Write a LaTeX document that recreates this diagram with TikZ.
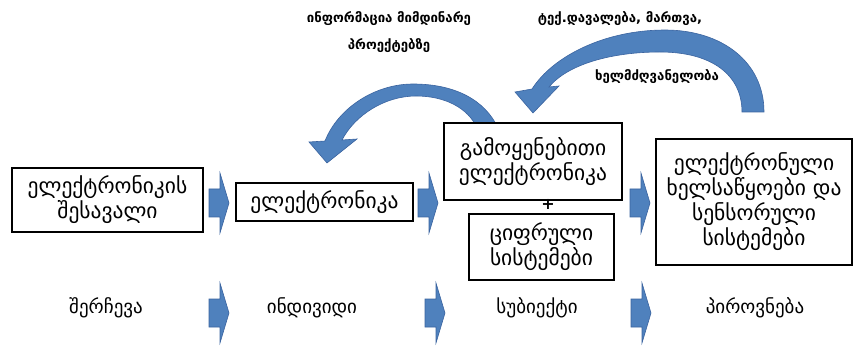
\documentclass[tikz,border=0pt]{standalone}
\usepackage{fontspec}
\setmainfont{DejaVu Sans}
\definecolor{arrblue}{HTML}{4F81BD}
\definecolor{arrline}{HTML}{3B64A0}
\tikzset{
  box/.style={draw=black, fill=white, line width=1.2pt, align=center, inner sep=0pt,
              font=\fontsize{21.5}{25}\selectfont},
  arrowfill/.style={fill=arrblue, draw=arrline, line width=0.6pt},
  toplabel/.style={font=\bfseries\fontsize{13.2}{27}\selectfont, align=center, inner sep=0pt},
  rowlabel/.style={font=\fontsize{19}{20}\selectfont, inner sep=0pt},
  barrow/.pic={\path[arrowfill] (-10,-14) -- (1,-14) -- (1,-30) -- (10,0) -- (1,30) -- (1,14) -- (-10,14) -- cycle;}
}
\begin{document}
\begin{tikzpicture}[x=1pt,y=-1pt]
\path[use as bounding box, fill=white] (0,0) rectangle (853,347);

% curved arrows
\path[arrowfill] (764,112) .. controls (764,62) and (722,30) .. (665,30)
   .. controls (605,30) and (553,56) .. (532,89) -- (515,92) -- (533,113) -- (559,86) -- (549,87)
   .. controls (568,64) and (612,52) .. (660,52)
   .. controls (712,52) and (742,75) .. (742,112) -- cycle;
\path[arrowfill] (498,128) .. controls (485,100) and (455,84) .. (413,84)
   .. controls (375,84) and (338,108) .. (325,141) -- (309,142) -- (327,163) -- (357,139) -- (342,140)
   .. controls (355,115) and (385,96) .. (416,96)
   .. controls (445,96) and (468,108) .. (477,128) -- cycle;

% boxes
\node[box, minimum width=191, minimum height=64] (b1) at (107.5,200) {ელექტრონიკის\\შესავალი};
\node[box, minimum width=177, minimum height=38] (b2) at (324.5,202) {ელექტრონიკა};
\node[box, minimum width=178, minimum height=77] (b3) at (533,161.5) {გამოყენებითი\\ელექტრონიკა};
\node[font=\bfseries\fontsize{16}{16}\selectfont, inner sep=0pt] (plus) at (548,204) {+};
\node[box, minimum width=145, minimum height=66] (b4) at (541.5,247) {ციფრული\\სისტემები};
\node[box, minimum width=196, minimum height=126] (b5) at (754,202) {ელექტრონული\\ხელსაწყოები და\\სენსორული\\სისტემები};

% straight block arrows
\pic at (219,203) {barrow};
\pic at (428,203) {barrow};
\pic at (640,203) {barrow};
\pic at (219,313) {barrow};
\pic at (435,313) {barrow};
\pic at (641,313) {barrow};

% bottom row
\node[rowlabel] (r1) at (106,308) {შერჩევა};
\node[rowlabel] (r2) at (312,308) {ინდივიდი};
\node[rowlabel] (r3) at (537,308) {სუბიექტი};
\node[rowlabel] (r4) at (755,308) {პიროვნება};

% top labels
\node[toplabel] (t1) at (389,32) {ინფორმაცია მიმდინარე\\პროექტებზე};
\node[toplabel] (t2) at (620,19) {ტექ.დავალება, მართვა,};
\node[toplabel] (t3) at (657,77) {ხელმძღვანელობა};
\end{tikzpicture}
\end{document}
